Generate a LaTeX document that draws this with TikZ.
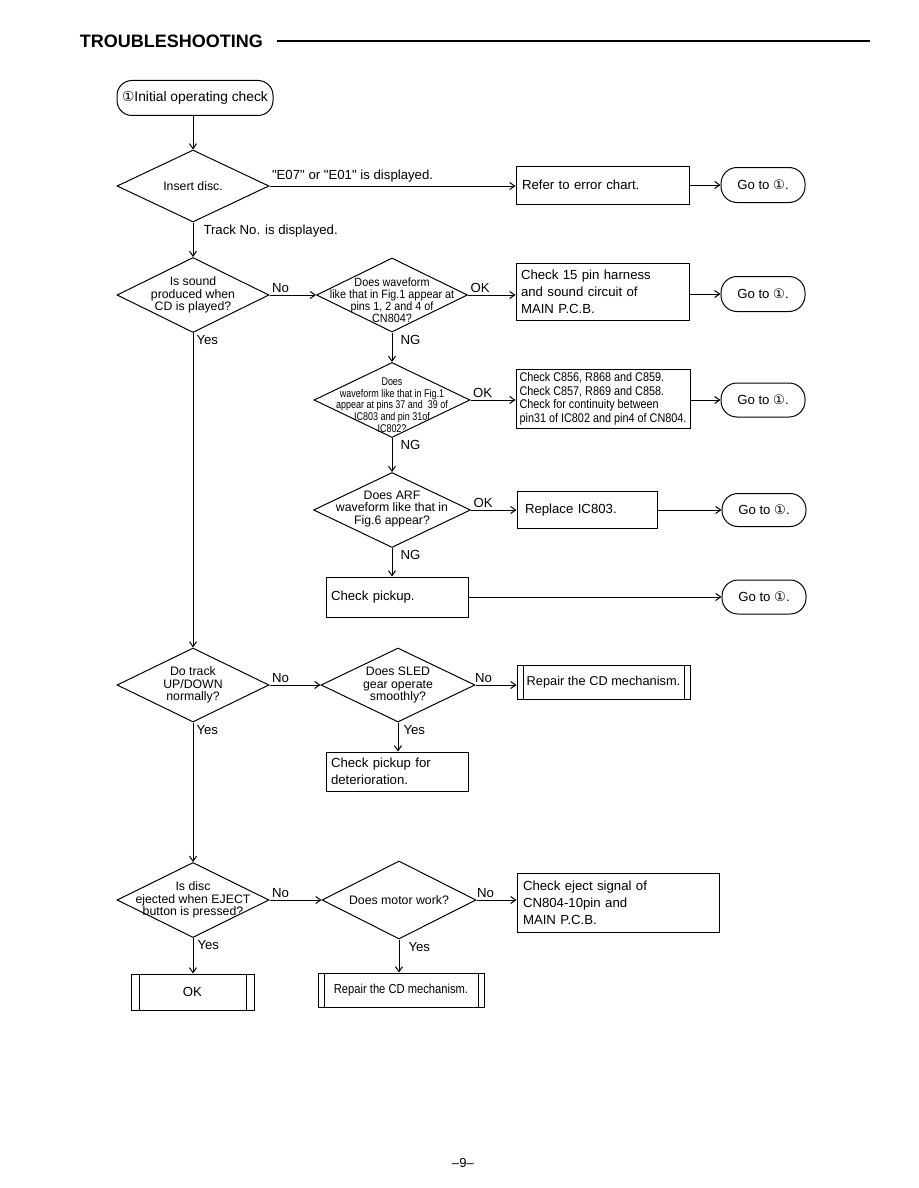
\documentclass[tikz,border=0pt]{standalone}
\usepackage{fontspec}
\setmainfont{Liberation Sans}
\newfontfamily\symfont{DejaVu Sans}
\newfontfamily\quotefont{Liberation Sans}
\newfontfamily\narrowfont[FakeStretch=0.9]{Liberation Sans}
\newfontfamily\condfont[FakeStretch=0.86]{Liberation Sans}
\newfontfamily\narrowerfont[FakeStretch=0.8]{Liberation Sans}
\usetikzlibrary{shapes.geometric,arrows.meta,positioning}
\newcommand{\numone}{{\symfont ①}}
\newcommand{\dq}{{\quotefont "}}

\tikzset{
  every node/.style={font=\fontsize{13.2}{17}\selectfont},
  decision/.style={diamond, draw, inner sep=0pt, minimum width=152pt, minimum height=75pt},
  dtext/.style={font=\fontsize{12.3}{12.5}\selectfont, align=center, inner sep=0pt},
  box/.style={draw, rectangle, align=left, inner xsep=5pt, inner ysep=2pt},
  procbox/.style={draw, rectangle, align=center, inner sep=0pt, path picture={
      \draw ([xshift=#1]path picture bounding box.north west) -- ([xshift=#1]path picture bounding box.south west)
            ([xshift=-#1]path picture bounding box.north east) -- ([xshift=-#1]path picture bounding box.south east);}},
  procbox/.default=7pt,
  goto/.style={draw, rectangle, rounded corners=16pt, minimum width=84pt, minimum height=35pt, inner sep=0pt},
  lbl/.style={inner sep=2pt},
}

\begin{document}
\begin{tikzpicture}[x=1pt,y=-1pt,line width=1pt,>={Straight Barb[length=5pt,width=7pt]}]
\useasboundingbox (0,0) rectangle (918,1188);

% heading
\node[anchor=west, font=\fontsize{18}{20}\selectfont\bfseries] (title) at (76,41) {TROUBLESHOOTING};
\coordinate (ruleend) at (870,41);
\draw[line width=1.4pt] ([xshift=10pt]title.east) -- (ruleend);

% start
\node[draw, rounded corners=15pt, minimum width=156pt, minimum height=35pt, inner sep=0pt,
      font=\fontsize{13.8}{16}\selectfont] (start) at (195,98) {\numone Initial operating check};

% insert disc
\node[decision, minimum height=72pt, label={[dtext]center:Insert disc.}] (disc) at (193,186) {};
\node[box, text width=161pt, inner xsep=6pt, minimum height=38pt] (errchart) at (602.5,185) {Refer to error chart.};
\node[goto] (go1) at (763,185) {Go to \numone.};
\draw[->] (start.south -| disc.north) -- (disc.north);
\draw[->] (disc.east) -- (disc.east -| errchart.west);
\node[lbl, anchor=south west, yshift=1pt] (e07) at (disc.east) {\dq E07\dq{} or \dq E01\dq{} is displayed.};
\draw[->] (errchart.east |- go1.west) -- (go1.west);

% sound check
\node[decision, label={[dtext]center:{Is sound\\produced when\\CD is played?}}] (sound) at (193,295) {};
\node[decision, minimum width=151pt, minimum height=74pt,
      label={[dtext, font=\narrowfont\fontsize{12}{12}\selectfont, yshift=-5pt]center:{Does waveform\\like that in Fig.1 appear at\\pins 1, 2 and 4 of\\CN804?}}] (wave1) at (392,295) {};
\node[box, text width=163pt, minimum height=57pt] (harness) at (602.5,292) {Check 15 pin harness\\and sound circuit of\\MAIN P.C.B.};
\node[goto] (go2) at (763,294) {Go to \numone.};
\draw[->] (disc.south) -- (sound.north);
\node[lbl, anchor=north west, xshift=8pt] (trackno) at (disc.south) {Track No. is displayed.};
\draw[->] (sound.east) -- (sound.east -| wave1.west);
\node[lbl, anchor=south west] (no1) at (sound.east) {No};
\draw[->] (wave1.east) -- (wave1.east -| harness.west);
\node[lbl, anchor=south west] (ok1) at (wave1.east) {OK};
\draw[->] (harness.east |- go2.west) -- (go2.west);

% waveform at IC803
\node[decision, minimum width=156pt,
      label={[dtext, font=\narrowerfont\fontsize{11.2}{11.7}\selectfont, yshift=-5pt]center:{Does\\waveform like that in Fig.1\\appear at pins 37 and\ \ 39 of\\IC803 and pin 31of\\IC802?}}] (wave2) at (392,400) {};
\node[box, minimum width=174pt, minimum height=59pt, inner xsep=3pt, font=\condfont\fontsize{12.6}{13.5}\selectfont] (caps) at (603,398.5)
  {Check C856, R868 and C859.\\Check C857, R869 and C858.\\Check for continuity between\\pin31 of IC802 and pin4 of CN804.};
\node[goto, minimum height=34pt] (go3) at (763,400) {Go to \numone.};
\draw[->] (wave1.south) -- (wave2.north);
\node[lbl, anchor=north west, xshift=6pt] (ng1) at (wave1.south) {NG};
\draw[->] (wave2.east) -- (wave2.east -| caps.west);
\node[lbl, anchor=south west] (ok2) at (wave2.east) {OK};
\draw[->] (caps.east |- go3.west) -- (go3.west);

% ARF waveform
\node[decision, minimum width=157pt, label={[dtext, yshift=1pt]center:{Does ARF\\waveform like that in\\Fig.6 appear?}}] (arf) at (392,510) {};
\node[box, text width=124pt, inner xsep=8pt, minimum height=37pt] (replace) at (587,510) {Replace IC803.};
\node[goto, minimum height=33pt] (go4) at (764,510) {Go to \numone.};
\draw[->] (wave2.south) -- (arf.north);
\node[lbl, anchor=north west, xshift=6pt] (ng2) at (wave2.south) {NG};
\draw[->] (arf.east) -- (arf.east -| replace.west);
\node[lbl, anchor=south west] (ok3) at (arf.east) {OK};
\draw[->] (replace.east) -- (go4.west);

% pickup
\node[box, text width=132pt, minimum height=40pt] (pickup) at (397,597) {Check pickup.};
\node[goto, minimum height=34pt] (go5) at (764,597) {Go to \numone.};
\draw[->] (arf.south) -- (arf.south |- pickup.north);
\node[lbl, anchor=north west, xshift=6pt] (ng3) at (arf.south) {NG};
\draw[->] (pickup.east |- go5.west) -- (go5.west);

% track up/down
\node[decision, minimum height=74pt, label={[dtext]center:{Do track\\UP/DOWN\\normally?}}] (updown) at (193,685) {};
\node[decision, minimum width=154pt, minimum height=74pt, label={[dtext]center:{Does SLED\\gear operate\\smoothly?}}] (sled) at (398,685) {};
\node[procbox=6pt, minimum width=173pt, minimum height=34pt, font=\fontsize{12.8}{15}\selectfont] (mech1) at (603.5,682) {Repair the CD mechanism.};
\node[box, text width=132pt, minimum height=39pt] (wear) at (397,771.5) {Check pickup for\\deterioration.};
\draw[->] (sound.south) -- (updown.north);
\node[lbl, anchor=north west, xshift=1pt] (yes1) at (sound.south) {Yes};
\draw[->] (updown.east) -- (updown.east -| sled.west);
\node[lbl, anchor=south west] (no2) at (updown.east) {No};
\draw[->] (sled.east) -- (sled.east -| mech1.west);
\node[lbl, anchor=south west, xshift=-3pt] (no3) at (sled.east) {No};
\draw[->] (sled.south) -- (sled.south |- wear.north);
\node[lbl, anchor=north west, xshift=3pt] (yes2) at (sled.south) {Yes};

% eject
\node[decision, label={[dtext]center:{Is disc\\ejected when EJECT\\button is pressed?}}] (eject) at (193,900) {};
\node[decision, minimum width=154pt, minimum height=78pt, label={[dtext]center:Does motor work?}] (motor) at (399,900) {};
\node[box, text width=190pt, inner xsep=6pt, minimum height=59pt] (signal) at (618,902.5) {Check eject signal of\\CN804-10pin and\\MAIN P.C.B.};
\node[procbox=8pt, minimum width=123pt, minimum height=36pt] (okbox) at (192.5,992) {OK};
\node[procbox=6pt, minimum width=166pt, minimum height=34pt, font=\condfont\fontsize{13}{15}\selectfont] (mech2) at (401,990) {Repair the CD mechanism.};
\draw[->] (updown.south) -- (eject.north);
\node[lbl, anchor=north west, xshift=1pt] (yes3) at (updown.south) {Yes};
\draw[->] (eject.east) -- (eject.east -| motor.west);
\node[lbl, anchor=south west] (no4) at (eject.east) {No};
\draw[->] (motor.east) -- (motor.east -| signal.west);
\node[lbl, anchor=south west, xshift=-2pt] (no5) at (motor.east) {No};
\draw[->] (motor.south) -- (motor.south |- mech2.north);
\node[lbl, anchor=north west, xshift=7pt] (yes4) at (motor.south) {Yes};
\draw[->] (eject.south) -- (eject.south |- okbox.north);
\node[lbl, anchor=north west, xshift=2pt] (yes5) at (eject.south) {Yes};

% page number
\node[font=\fontsize{13}{15}\selectfont] (pagenum) at (463,1163) {--9--};
\end{tikzpicture}
\end{document}
